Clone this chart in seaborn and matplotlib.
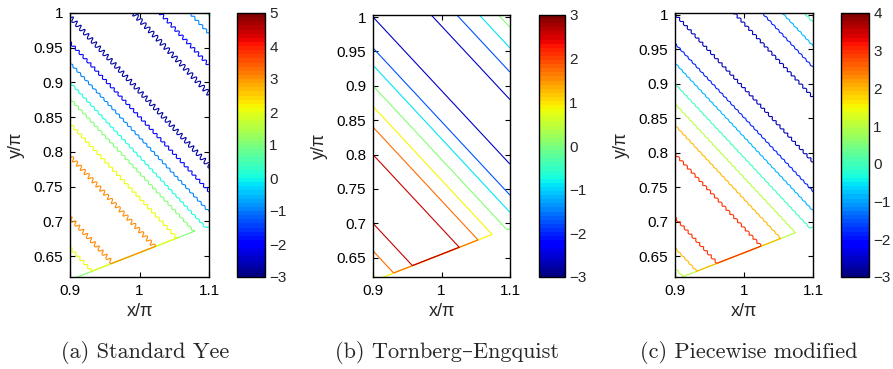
import numpy as np
import matplotlib
matplotlib.use("Agg")
import matplotlib.pyplot as plt
import seaborn as sns
from matplotlib.colors import ListedColormap, Normalize
from matplotlib.cm import ScalarMappable

# ---------------- data ----------------
captions = ["(a) Standard Yee", "(b) Tornberg\u2013Engquist", "(c) Piecewise modified"]
x_ticks = [0.9, 1.0, 1.1]
x_tick_labels = ["0.9", "1", "1.1"]
y_ticks = [0.65, 0.7, 0.75, 0.8, 0.85, 0.9, 0.95, 1.0]
y_tick_labels = ["0.65", "0.7", "0.75", "0.8", "0.85", "0.9", "0.95", "1"]

cbar_min = [-3, -3, -3]
cbar_max = [5, 3, 4]

# wave fronts run with slope -front_slope; each front is located by where it
# crosses x/pi = 0.9 (intercept) and carries the field value read from its colour
front_slope = 1.07
intercept_a = [0.60, 0.622, 0.662, 0.704, 0.750, 0.795, 0.841, 0.877, 0.900, 0.928, 0.957, 0.993, 1.045, 1.099, 1.139, 1.185, 1.212, 1.26]
value_a     = [0.3,  1.0,   2.0,   3.0,   3.5,   3.0,   2.0,   1.0,   0.0,  -1.0,  -2.0,  -2.7,  -3.2,  -2.7,  -2.0,  -1.0,   0.0,  1.0]
intercept_b = [0.60, 0.625, 0.660, 0.700, 0.750, 0.800, 0.840, 0.870, 0.900, 0.930, 0.955, 1.000, 1.047, 1.094, 1.134, 1.169, 1.199, 1.26]
value_b     = [0.3,  0.87,  1.73,  2.6,   3.0,   2.6,   1.73,  0.87,  0.0,  -0.87, -1.73, -2.6,  -3.0,  -2.6,  -1.73, -0.87,  0.0,  0.9]
intercept_c = [0.60, 0.633, 0.662, 0.705, 0.752, 0.799, 0.840, 0.871, 0.900, 0.930, 0.958, 1.000, 1.047, 1.095, 1.138, 1.169, 1.203, 1.26]
value_c     = [0.3,  1.0,   2.0,   3.0,   3.4,   3.0,   2.0,   1.0,   0.0,  -0.9,  -1.8,  -2.6,  -3.0,  -2.6,  -1.8,  -0.9,   0.0,  0.9]

levels_a = [-2.7, -2.0, -1.0, 0.0, 1.0, 2.0, 3.0]
levels_b = [-2.6, -1.73, -0.87, 0.0, 0.87, 1.73, 2.6]
levels_c = [-2.6, -1.8, -0.9, 0.0, 1.0, 2.0, 3.0]

# scatterer edge (field region lies above it) and value inside the scatterer
edge_x = [0.9, 1.077, 1.1]
edge_y = [0.616, 0.685, 0.692]
inside_value = [0.3, 0.3, 0.3]

# numerical noise amplitude of each scheme (fine ripple along the fronts)
ripple_amp = [0.06, 0.0, 0.025]
ripple_wavelength = 0.012

y_limits = [(0.620, 1.0), (0.622, 1.003), (0.620, 1.0025)]

# ---------------- styling / layout ----------------
sns.set_style("ticks")
plt.rcParams["font.family"] = ["Liberation Sans", "DejaVu Sans"]

W, H = 893, 369
fig = plt.figure(figsize=(W / 100, H / 100), dpi=100)

def frac(x0, y0, x1, y1):
    return [x0 / W, 1 - y1 / H, (x1 - x0) / W, (y1 - y0) / H]

ax_boxes = [frac(70, 13, 209, 277), frac(373, 15, 510, 277), frac(675, 13, 813, 277)]
cb_boxes = [frac(237, 13, 265, 277), frac(539, 15, 565, 277), frac(841, 13, 869, 277)]
caption_x = [145, 447, 749]
caption_y = 352

jet64 = ListedColormap(plt.get_cmap("jet")(np.linspace(0, 1, 64)))

intercepts = [intercept_a, intercept_b, intercept_c]
values = [value_a, value_b, value_c]
levels_all = [levels_a, levels_b, levels_c]

gx = np.linspace(0.9, 1.1, 500)
gy = np.linspace(0.612, 1.006, 980)
X, Y = np.meshgrid(gx, gy)
U = Y + front_slope * (X - 0.9)
V = (X - 0.9) - front_slope * (Y - 0.6)
inside = Y < np.interp(X, edge_x, edge_y)

for i in range(3):
    ax = fig.add_axes(ax_boxes[i])
    F = np.interp(U, intercepts[i], values[i])
    if ripple_amp[i] > 0:
        F = F + ripple_amp[i] * np.sin(2 * np.pi * V / ripple_wavelength)
    F = np.where(inside, inside_value[i], F)
    norm = Normalize(vmin=cbar_min[i], vmax=cbar_max[i])
    ax.contour(X, Y, F, levels=levels_all[i], cmap=jet64, norm=norm, linewidths=0.8)

    ax.set_xlim(0.9, 1.1)
    ax.set_ylim(*y_limits[i])
    ax.set_xticks(x_ticks)
    ax.set_xticklabels(x_tick_labels)
    ax.set_yticks(y_ticks)
    ax.set_yticklabels(y_tick_labels)
    ax.tick_params(direction="in", length=3.5, width=0.8, labelsize=11,
                   top=True, right=True, pad=5, colors="black")
    for s in ax.spines.values():
        s.set_visible(True)
        s.set_linewidth(1.0)
        s.set_color("black")
    ax.set_xlabel("x/\u03c0", fontsize=13, labelpad=4)
    ax.set_ylabel("y/\u03c0", fontsize=13, labelpad=6)

    cax = fig.add_axes(cb_boxes[i])
    cb = fig.colorbar(ScalarMappable(norm=norm, cmap=jet64), cax=cax)
    ticks = list(range(cbar_min[i], cbar_max[i] + 1))
    cb.set_ticks(ticks)
    cb.set_ticklabels([str(t).replace("-", "\u2212") for t in ticks])
    cb.ax.tick_params(direction="in", length=3, width=0.8, labelsize=11,
                      left=True, right=True, pad=3)
    cb.outline.set_linewidth(1.0)
    cb.outline.set_edgecolor("black")

    fig.text(caption_x[i] / W, 1 - caption_y / H, captions[i],
             ha="center", va="center", fontsize=16,
             family=["cmr10", "DejaVu Serif"])

fig.savefig("out.png", dpi=100)
